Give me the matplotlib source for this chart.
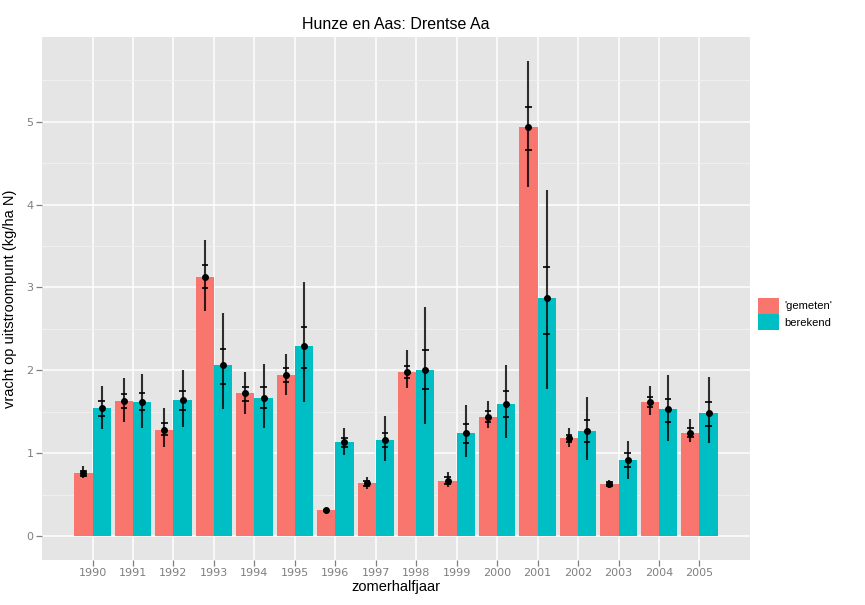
import numpy as np
import matplotlib.pyplot as plt
from matplotlib.patches import Patch

years = np.arange(1990, 2006)

# 'gemeten' (measured)
gem = [0.76, 1.63, 1.28, 3.13, 1.73, 1.94, 0.31, 0.64, 1.98, 0.67, 1.44, 4.93, 1.18, 0.63, 1.62, 1.25]
gem_lo = [0.70, 1.38, 1.08, 2.72, 1.47, 1.70, 0.29, 0.57, 1.79, 0.59, 1.30, 4.21, 1.08, 0.58, 1.46, 1.13]
gem_hi = [0.85, 1.91, 1.55, 3.57, 1.98, 2.20, 0.34, 0.71, 2.24, 0.77, 1.63, 5.73, 1.30, 0.68, 1.81, 1.41]
gem_q1 = [0.73, 1.55, 1.22, 2.99, 1.63, 1.86, 0.30, 0.61, 1.91, 0.63, 1.38, 4.66, 1.14, 0.60, 1.56, 1.20]
gem_q3 = [0.79, 1.72, 1.37, 3.27, 1.80, 2.03, 0.32, 0.67, 2.05, 0.71, 1.51, 5.18, 1.22, 0.65, 1.68, 1.31]

# berekend (calculated)
ber = [1.55, 1.62, 1.64, 2.06, 1.67, 2.29, 1.13, 1.16, 2.01, 1.24, 1.60, 2.87, 1.27, 0.92, 1.53, 1.48]
ber_lo = [1.29, 1.31, 1.32, 1.53, 1.31, 1.62, 0.98, 0.91, 1.35, 0.95, 1.18, 1.78, 0.92, 0.69, 1.15, 1.12]
ber_hi = [1.81, 1.96, 2.01, 2.69, 2.08, 3.07, 1.31, 1.45, 2.77, 1.58, 2.07, 4.17, 1.68, 1.15, 1.94, 1.92]
ber_q1 = [1.45, 1.52, 1.52, 1.84, 1.54, 2.03, 1.07, 1.07, 1.78, 1.12, 1.44, 2.44, 1.13, 0.84, 1.38, 1.33]
ber_q3 = [1.63, 1.73, 1.75, 2.26, 1.80, 2.52, 1.18, 1.25, 2.25, 1.35, 1.75, 3.25, 1.40, 1.00, 1.66, 1.62]

red = '#F8766D'
teal = '#00BFC4'
grey_txt = '#7F7F7F'

fig = plt.figure(figsize=(8.65, 6.05), dpi=100)
ax = fig.add_axes([42/865, 1-560/605, (750-42)/865, (560-37)/605])
ax.set_facecolor('#E5E5E5')

w = 0.45
for vals, lo, hi, q1, q3, off, col in [
        (gem, gem_lo, gem_hi, gem_q1, gem_q3, -w/2, red),
        (ber, ber_lo, ber_hi, ber_q1, ber_q3, w/2, teal)]:
    xs = years + off
    ax.bar(xs, vals, width=w, color=col, zorder=2)
    ax.vlines(xs, lo, hi, color='black', lw=1.5, alpha=0.8, zorder=3)
    ax.hlines(q1, xs - 0.08, xs + 0.08, color='black', lw=1.2, zorder=3)
    ax.hlines(q3, xs - 0.08, xs + 0.08, color='black', lw=1.2, zorder=3)
    ax.plot(xs, vals, 'o', color='black', ms=4, zorder=4)

ax.set_xlim(1988.75, 2006.25)
ax.set_ylim(-0.287, 6.02)
ax.set_xticks(years)
ax.set_xticklabels([str(y) for y in years])
ax.set_yticks(range(0, 6))
ax.set_yticks(np.arange(0.5, 6, 1), minor=True)
ax.grid(True, which='major', color='white', lw=1.1, zorder=0)
ax.grid(True, which='minor', axis='y', color='#F2F2F2', lw=0.6, zorder=0)
ax.set_axisbelow(True)
for s in ax.spines.values():
    s.set_visible(False)
ax.tick_params(axis='both', which='major', colors=grey_txt, labelsize=8, length=4, width=0.9)
ax.tick_params(axis='both', which='minor', length=0)
ax.tick_params(axis='x', pad=2)
ax.tick_params(axis='y', pad=2)

ax.set_title('Hunze en Aas: Drentse Aa', fontsize=11.5, pad=6, color='black',
             fontname='Liberation Sans')
ax.set_xlabel('zomerhalfjaar', fontsize=10.5, labelpad=1, fontname='Liberation Sans')
ax.set_ylabel('vracht op uitstroompunt (kg/ha N)', fontsize=10.5, labelpad=7,
              fontname='Liberation Sans')

handles = [Patch(facecolor=red, edgecolor='none'), Patch(facecolor=teal, edgecolor='none')]
fig.legend(handles, ["'gemeten'", 'berekend'], loc='center left',
           bbox_to_anchor=(758/865, 1-314/605), frameon=False,
           handlelength=1.9, handleheight=1.9, handletextpad=0.45, labelspacing=0.0,
           borderaxespad=0, borderpad=0, prop={'family': 'Liberation Sans', 'size': 8})

fig.savefig('out.png', dpi=100)
